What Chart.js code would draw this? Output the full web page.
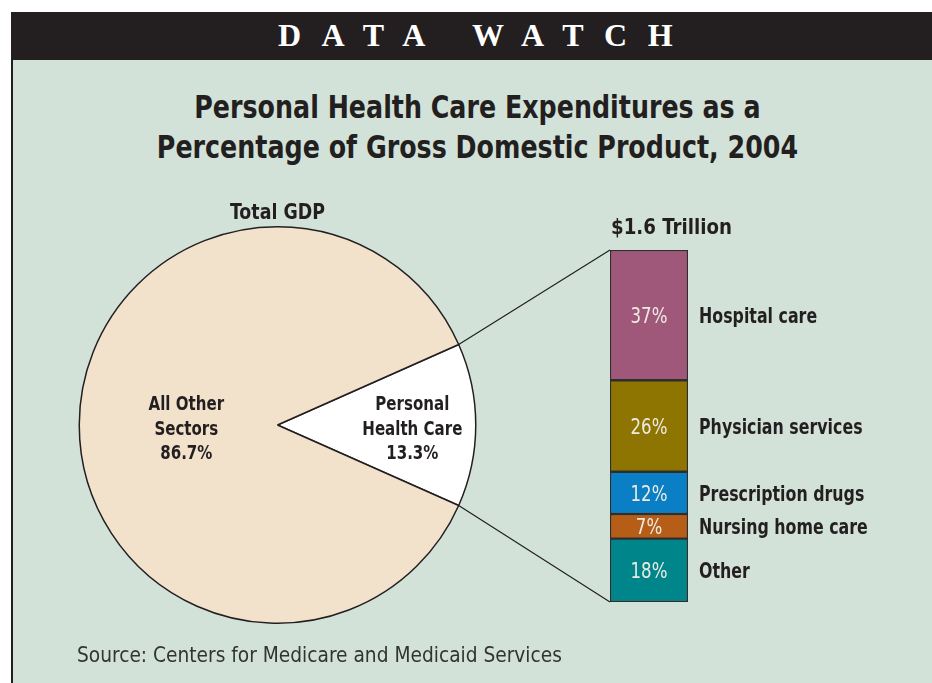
<!DOCTYPE html>
<html>
<head>
<meta charset="utf-8">
<script src="https://cdn.jsdelivr.net/npm/chart.js@4.4.0/dist/chart.umd.min.js"></script>
<style>
  body { margin: 0; width: 932px; height: 683px; position: relative; overflow: hidden; background: #fff;
    font-family: "Liberation Sans Narrow", "DejaVu Sans Condensed", "Roboto Condensed", sans-serif; color: #231f20; }
  #panel { position: absolute; left: 11px; top: 12px; width: 921px; height: 671px; background: #d2e2d9;
    border-left: 2px solid #231f20; box-sizing: border-box; }
  #band { position: absolute; left: 11px; top: 12px; width: 921px; height: 48px; background: #231f20; }
  #band span { position: absolute; left: 267px; top: 5px; font: bold 32px "Liberation Serif", serif; color: #fff;
    letter-spacing: 20.5px; white-space: pre; }
  #title { position: absolute; left: 0; top: 87px; width: 955px; text-align: center; font-weight: bold;
    font-size: 32px; line-height: 40px; transform: scaleX(0.88); transform-origin: 477px 0; }
  #source { position: absolute; left: 77px; top: 643px; font-size: 21px; color: #333;
    transform: scaleX(0.985); transform-origin: 0 0; }
  canvas { position: absolute; left: 0; top: 0; }
</style>
</head>
<body>
<div id="panel"></div>
<div id="band"><span>DATA WATCH</span></div>
<div id="title">Personal Health Care Expenditures as a<br>Percentage of Gross Domestic Product, 2004</div>
<canvas id="pie" width="932" height="683"></canvas>
<canvas id="bar" width="932" height="683"></canvas>
<div id="source">Source: Centers for Medicare and Medicaid Services</div>
<script>
// pie: share of GDP
const pieLabels = ["Personal Health Care", "All Other Sectors"];
const pieLines = [["Personal", "Health Care"], ["All Other", "Sectors"]];
const pieValues = [13.3, 86.7];
const pieColors = ["#ffffff", "#f2e2cc"];
const pieTitle = "Total GDP";

// stacked bar: split of the health care spending (bottom to top)
const barCategories = ["Other", "Nursing home care", "Prescription drugs", "Physician services", "Hospital care"];
const barValues = [18, 7, 12, 26, 37];
const barColors = ["#00868a", "#b65e17", "#0a7fc5", "#8e7400", "#a0587a"];
const barTitle = "$1.6 Trillion";

const cond = '"Liberation Sans Narrow", "DejaVu Sans Condensed", "Roboto Condensed", sans-serif';
const ink = "#231f20";

// where the labels sit inside each slice, as a share of the radius
const labelRadius = [0.68, 0.46];

// the original uses a condensed face, so squeeze the text a little
function squeezed(ctx, text, x, y, align, sx) {
	ctx.save();
	ctx.translate(x, y);
	ctx.scale(sx, 1);
	ctx.textAlign = align;
	ctx.fillText(text, 0, 0);
	ctx.restore();
}

const pieText = {
	id: "pieText",
	afterDatasetsDraw(chart) {
		const ctx = chart.ctx;
		const arcs = chart.getDatasetMeta(0).data;
		ctx.save();
		ctx.fillStyle = ink;
		ctx.textBaseline = "middle";
		ctx.font = "bold 22px " + cond;
		squeezed(ctx, pieTitle, arcs[0].x, arcs[0].y - arcs[0].outerRadius - 13, "center", 0.88);
		ctx.font = "bold 19px " + cond;
		arcs.forEach((arc, i) => {
			const mid = (arc.startAngle + arc.endAngle) / 2;
			const cx = arc.x + Math.cos(mid) * arc.outerRadius * labelRadius[i];
			const cy = arc.y + Math.sin(mid) * arc.outerRadius * labelRadius[i];
			const lines = pieLines[i].concat([pieValues[i].toFixed(1) + "%"]);
			lines.forEach((t, j) => {
				squeezed(ctx, t, cx, cy + 5 + (j - 1) * 24.5, "center", 0.88);
			});
		});
		ctx.restore();
	},
};

const pie = new Chart(document.getElementById("pie"), {
	type: "pie",
	data: {
		labels: pieLabels,
		datasets: [
			{
				data: pieValues,
				backgroundColor: pieColors,
				borderColor: ink,
				borderWidth: 1.5,
				hoverOffset: 0,
				offset: 0,
			},
		],
	},
	options: {
		responsive: false,
		animation: false,
		events: [],
		rotation: 90 - (pieValues[0] * 3.6) / 2,
		layout: { padding: { left: 78, right: 455, top: 226, bottom: 59 } },
		plugins: { legend: { display: false }, tooltip: { enabled: false } },
	},
	plugins: [pieText],
});

const barText = {
	id: "barText",
	beforeDatasetsDraw(chart) {
		// lines from the health care slice to the bar corners
		const arc = pie.getDatasetMeta(0).data[0];
		const area = chart.chartArea;
		const ctx = chart.ctx;
		ctx.save();
		ctx.strokeStyle = ink;
		ctx.lineWidth = 1.2;
		ctx.beginPath();
		ctx.moveTo(arc.x + Math.cos(arc.startAngle) * arc.outerRadius, arc.y + Math.sin(arc.startAngle) * arc.outerRadius);
		ctx.lineTo(area.left, area.top);
		ctx.moveTo(arc.x + Math.cos(arc.endAngle) * arc.outerRadius, arc.y + Math.sin(arc.endAngle) * arc.outerRadius);
		ctx.lineTo(area.left, area.bottom);
		ctx.stroke();
		ctx.restore();
	},
	afterDatasetsDraw(chart) {
		const ctx = chart.ctx;
		const area = chart.chartArea;
		ctx.save();
		ctx.textBaseline = "middle";
		ctx.font = "bold 22px " + cond;
		ctx.fillStyle = ink;
		squeezed(ctx, barTitle, area.left + 1, area.top - 22, "left", 0.92);
		chart.data.datasets.forEach((ds, i) => {
			const el = chart.getDatasetMeta(i).data[0];
			const cy = (el.y + el.base) / 2 + 2;
			ctx.font = "22px " + cond;
			ctx.fillStyle = "#ecebe2";
			squeezed(ctx, ds.data[0] + "%", el.x, cy, "center", 0.84);
			ctx.font = "bold 22px " + cond;
			ctx.fillStyle = ink;
			squeezed(ctx, ds.label, area.right + 11, cy, "left", 0.8);
		});
		ctx.restore();
	},
};

new Chart(document.getElementById("bar"), {
	type: "bar",
	data: {
		labels: [""],
		datasets: barCategories.map((c, i) => ({
			label: c,
			data: [barValues[i]],
			backgroundColor: barColors[i],
			borderColor: "#2e2e2e",
			borderWidth: 1.5,
			borderSkipped: false,
			barPercentage: 1,
			categoryPercentage: 1,
		})),
	},
	options: {
		responsive: false,
		animation: false,
		events: [],
		layout: { padding: { left: 610, right: 244, top: 250, bottom: 81 } },
		scales: {
			x: { stacked: true, display: false },
			y: { stacked: true, display: false, min: 0, max: 100 },
		},
		plugins: { legend: { display: false }, tooltip: { enabled: false } },
	},
	plugins: [barText],
});
</script>
</body>
</html>
